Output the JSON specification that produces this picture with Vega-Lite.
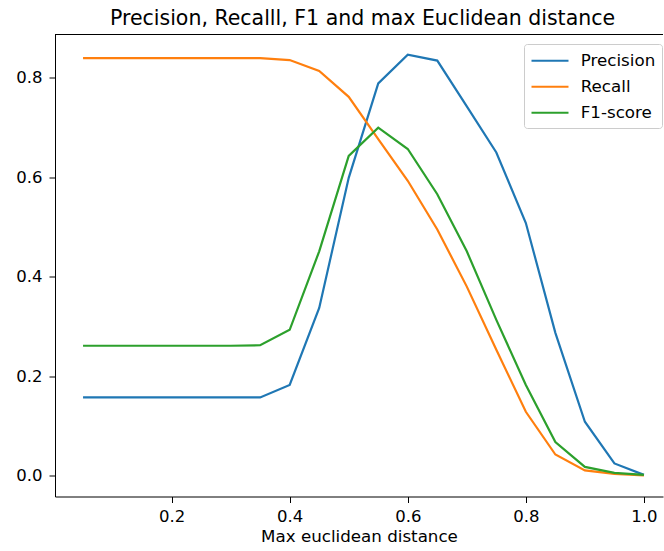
{
  "$schema": "https://vega.github.io/schema/vega-lite/v6.json",
  "autosize": {"type": "none"},
  "padding": {"left": 55, "top": 34.5, "right": 1, "bottom": 54.5},
  "width": 608,
  "height": 462,
  "title": {
    "text": "Precision, Recalll, F1 and max Euclidean distance",
    "font": "DejaVu Sans",
    "fontSize": 20.5,
    "fontWeight": "normal",
    "color": "black",
    "offset": 5,
    "dx": 3.5
  },
  "config": {
    "view": {"stroke": null},
    "font": "DejaVu Sans",
    "axis": {
      "grid": false,
      "domainColor": "black",
      "domainWidth": 1,
      "tickColor": "black",
      "tickSize": 6,
      "labelFont": "DejaVu Sans",
      "labelFontSize": 16.5,
      "labelColor": "black",
      "labelPadding": 6,
      "titleFont": "DejaVu Sans",
      "titleFontSize": 16.7,
      "titleFontWeight": "normal",
      "titleColor": "black"
    }
  },
  "data": {
    "values": [
      {"d": 0.05, "metric": "Precision", "value": 0.157},
      {"d": 0.10, "metric": "Precision", "value": 0.157},
      {"d": 0.15, "metric": "Precision", "value": 0.157},
      {"d": 0.20, "metric": "Precision", "value": 0.157},
      {"d": 0.25, "metric": "Precision", "value": 0.157},
      {"d": 0.30, "metric": "Precision", "value": 0.157},
      {"d": 0.35, "metric": "Precision", "value": 0.157},
      {"d": 0.40, "metric": "Precision", "value": 0.182},
      {"d": 0.45, "metric": "Precision", "value": 0.337},
      {"d": 0.50, "metric": "Precision", "value": 0.599},
      {"d": 0.55, "metric": "Precision", "value": 0.789},
      {"d": 0.60, "metric": "Precision", "value": 0.847},
      {"d": 0.65, "metric": "Precision", "value": 0.835},
      {"d": 0.70, "metric": "Precision", "value": 0.743},
      {"d": 0.75, "metric": "Precision", "value": 0.650},
      {"d": 0.80, "metric": "Precision", "value": 0.508},
      {"d": 0.85, "metric": "Precision", "value": 0.287},
      {"d": 0.90, "metric": "Precision", "value": 0.108},
      {"d": 0.95, "metric": "Precision", "value": 0.024},
      {"d": 1.00, "metric": "Precision", "value": 0.001},
      {"d": 0.05, "metric": "Recall", "value": 0.840},
      {"d": 0.10, "metric": "Recall", "value": 0.840},
      {"d": 0.15, "metric": "Recall", "value": 0.840},
      {"d": 0.20, "metric": "Recall", "value": 0.840},
      {"d": 0.25, "metric": "Recall", "value": 0.840},
      {"d": 0.30, "metric": "Recall", "value": 0.840},
      {"d": 0.35, "metric": "Recall", "value": 0.840},
      {"d": 0.40, "metric": "Recall", "value": 0.836},
      {"d": 0.45, "metric": "Recall", "value": 0.814},
      {"d": 0.50, "metric": "Recall", "value": 0.762},
      {"d": 0.55, "metric": "Recall", "value": 0.677},
      {"d": 0.60, "metric": "Recall", "value": 0.593},
      {"d": 0.65, "metric": "Recall", "value": 0.495},
      {"d": 0.70, "metric": "Recall", "value": 0.380},
      {"d": 0.75, "metric": "Recall", "value": 0.253},
      {"d": 0.80, "metric": "Recall", "value": 0.128},
      {"d": 0.85, "metric": "Recall", "value": 0.042},
      {"d": 0.90, "metric": "Recall", "value": 0.010},
      {"d": 0.95, "metric": "Recall", "value": 0.003},
      {"d": 1.00, "metric": "Recall", "value": 0.000},
      {"d": 0.05, "metric": "F1-score", "value": 0.261},
      {"d": 0.10, "metric": "F1-score", "value": 0.261},
      {"d": 0.15, "metric": "F1-score", "value": 0.261},
      {"d": 0.20, "metric": "F1-score", "value": 0.261},
      {"d": 0.25, "metric": "F1-score", "value": 0.261},
      {"d": 0.30, "metric": "F1-score", "value": 0.261},
      {"d": 0.35, "metric": "F1-score", "value": 0.262},
      {"d": 0.40, "metric": "F1-score", "value": 0.293},
      {"d": 0.45, "metric": "F1-score", "value": 0.451},
      {"d": 0.50, "metric": "F1-score", "value": 0.643},
      {"d": 0.55, "metric": "F1-score", "value": 0.700},
      {"d": 0.60, "metric": "F1-score", "value": 0.657},
      {"d": 0.65, "metric": "F1-score", "value": 0.566},
      {"d": 0.70, "metric": "F1-score", "value": 0.451},
      {"d": 0.75, "metric": "F1-score", "value": 0.313},
      {"d": 0.80, "metric": "F1-score", "value": 0.182},
      {"d": 0.85, "metric": "F1-score", "value": 0.067},
      {"d": 0.90, "metric": "F1-score", "value": 0.017},
      {"d": 0.95, "metric": "F1-score", "value": 0.005},
      {"d": 1.00, "metric": "F1-score", "value": 0.001}
    ]
  },
  "layer": [
    {
      "mark": {"type": "rule", "color": "black", "strokeWidth": 1},
      "encoding": {"y": {"datum": 0.8875, "type": "quantitative"}}
    },
    {
      "mark": {"type": "line", "strokeWidth": 2.2},
      "encoding": {
        "x": {
          "field": "d",
          "type": "quantitative",
          "scale": {"domain": [0.0025, 1.0323], "nice": false, "zero": false},
          "axis": {"values": [0.2, 0.4, 0.6, 0.8, 1.0], "format": ".1f", "title": "Max euclidean distance", "titlePadding": 3}
        },
        "y": {
          "field": "value",
          "type": "quantitative",
          "scale": {"domain": [-0.0425, 0.8875], "nice": false, "zero": false},
          "axis": {"values": [0, 0.2, 0.4, 0.6, 0.8], "format": ".1f", "title": null, "labelPadding": 7}
        },
        "color": {
          "field": "metric",
          "type": "nominal",
          "sort": ["Precision", "Recall", "F1-score"],
          "scale": {"domain": ["Precision", "Recall", "F1-score"], "range": ["#1f77b4", "#ff7f0e", "#2ca02c"]},
          "legend": {
            "title": null,
            "orient": "none",
            "legendX": 469,
            "legendY": 9.5,
            "symbolType": "M-1,0H3",
            "symbolSize": 342,
            "symbolStrokeWidth": 2.2,
            "labelFont": "DejaVu Sans",
            "labelFontSize": 16.7,
            "labelColor": "black",
            "labelOffset": 29.5,
            "rowPadding": 6,
            "padding": 6.25,
            "strokeColor": "#cccccc",
            "fillColor": "rgba(255,255,255,0.8)",
            "cornerRadius": 3
          }
        }
      }
    }
  ]
}
